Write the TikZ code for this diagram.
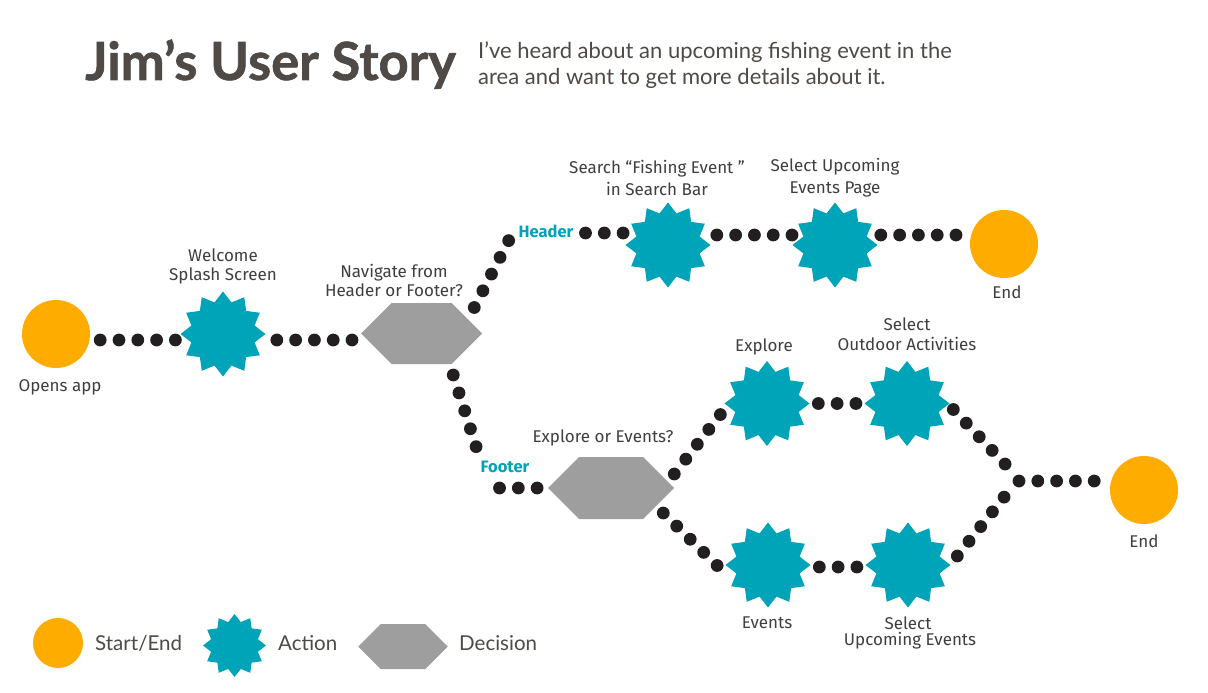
\documentclass[tikz,border=0pt]{standalone}
\usepackage{fontspec}
\setmainfont{Fira Sans}
\newfontfamily\geofont{Lato}
\newfontfamily\titlefont{Lato}[BoldFeatures={FakeBold=1.2}]
\usetikzlibrary{shapes.geometric,shapes.symbols,calc}
\definecolor{orng}{HTML}{FFAC00}
\definecolor{tealc}{HTML}{00A4B8}
\definecolor{grayc}{HTML}{9E9E9E}
\definecolor{dotc}{HTML}{231F20}
\definecolor{txt}{HTML}{3F3F3F}
\definecolor{ttl}{HTML}{4F4A45}
\begin{document}
\begin{tikzpicture}[x=1pt,y=-1pt,
  seend/.style={circle,fill=orng,inner sep=0pt,minimum size=68pt},
  actstar/.style={star,star points=12,star point ratio=1.3,fill=tealc,inner sep=0pt,minimum size=85pt},
  decis/.style={signal,signal to=west and east,signal pointer angle=90,fill=grayc,inner sep=0pt,minimum width=121pt,minimum height=61pt},
  dotline/.style={draw=dotc,line width=12.8pt,line cap=round,dash pattern=on 0pt off 18.8pt,shorten >=-3pt},
  lbl/.style={font=\fontsize{17}{20}\selectfont,text=txt,inner sep=0pt,anchor=base},
  hlbl/.style={font=\bfseries\fontsize{16.5}{19}\selectfont,text=tealc,inner sep=0pt},
  leg/.style={font=\geofont\fontsize{20.5}{24}\selectfont,text=ttl,inner sep=0pt,anchor=west}]
\useasboundingbox (0,0) rectangle (1208,693);
\fill[white] (0,0) rectangle (1208,693);

% title
\node[anchor=base west,inner sep=0pt,font=\titlefont\bfseries\fontsize{52.5}{52}\selectfont,text=ttl] (title) at (85,80) {Jim’s User Story};
\node[anchor=north west,inner sep=0pt,align=left,font=\geofont\fontsize{22}{26}\selectfont,text=ttl] (sub) at (478,41) {I’ve heard about an upcoming fishing event in the\\area and want to get more details about it.};

% nodes
\node[seend] (start) at (56,334) {};
\node[actstar] (welcome) at (223,334) {};
\node[decis] (nav) at (421.5,333.5) {};
\node[hlbl] (hdr) at (546,231) {Header};
\node[actstar] (search) at (668,245) {};
\node[actstar] (selpage) at (835,245) {};
\node[seend] (end1) at (1004,244) {};
\node[hlbl] (ftr) at (505,467) {Footer};
\node[decis,minimum width=126pt,minimum height=62pt] (expev) at (611,488) {};
\node[actstar] (explore) at (767,403.5) {};
\node[actstar] (seloutdoor) at (907,403.5) {};
\node[actstar] (events) at (768,565) {};
\node[actstar] (selupc) at (908,565) {};
\node[seend] (end2) at (1144,490) {};
\coordinate (junc) at (1019,481);

% dotted connectors
\draw[dotline] ($(start.east)+(10,6)$) -- ($(welcome.west)+(-5,6)$);
\draw[dotline] ($(welcome.east)+(11,6)$) -- ($(nav.west)+(-9,6.5)$);
\draw[dotline] ($(nav.east)+(-8,-26)$) -- ($(hdr.west)+(-9,8)$);
\draw[dotline] ($(hdr.east)+(12,2)$) -- ($(search.west)+(-2,-12)$);
\draw[dotline] ($(search.east)+(6,-10)$) -- ($(selpage.west)+(0,-10)$);
\draw[dotline] ($(selpage.east)+(3,-10)$) -- ($(end1.west)+(-14,-9)$);
\draw[dotline] ($(nav.east)+(-29,41.5)$) -- ($(ftr.west)+(-4,-19)$);
\draw[dotline] ($(ftr.west)+(19,21)$) -- ($(expev.west)+(-10,0)$);
\draw[dotline] ($(expev.east)+(0,-14)$) -- ($(explore.west)+(-3,10)$);
\draw[dotline] ($(explore.east)+(8.5,0)$) -- ($(seloutdoor.west)+(-8.5,0)$);
\draw[dotline] ($(seloutdoor.east)+(3.5,6)$) -- ($(junc)+(-13,-16)$);
\draw[dotline] ($(expev.east)+(-11,25)$) -- ($(events.west)+(-7.5,1)$);
\draw[dotline] ($(events.east)+(8.5,2)$) -- ($(selupc.west)+(-8.5,2)$);
\draw[dotline] ($(selupc.east)+(6.5,-9)$) -- ($(junc)+(-14,15)$);
\draw[dotline] (junc) -- ($(end2.west)+(-15,-9)$);

% labels
\node[lbl] (lopen) at (60,391.5) {Opens app};
\node[lbl] (lwel1) at (223,261.5) {Welcome};
\node[lbl] (lwel2) at (223,280.5) {Splash Screen};
\node[lbl] (lnav1) at (394,277.5) {Navigate from};
\node[lbl] (lnav2) at (394,296.5) {Header or Footer?};
\node[lbl] (lsea1) at (657,173.5) {Search “Fishing Event ”};
\node[lbl] (lsea2) at (657,195.5) {in Search Bar};
\node[lbl] (lsp1) at (835,171.5) {Select Upcoming};
\node[lbl] (lsp2) at (835,193.5) {Events Page};
\node[lbl] (lend1) at (1007,298.5) {End};
\node[lbl] (lexev) at (603,442.5) {Explore or Events?};
\node[lbl] (lexp) at (764,351.5) {Explore};
\node[lbl] (lso1) at (907,330.5) {Select};
\node[lbl] (lso2) at (907,350.5) {Outdoor Activities};
\node[lbl] (lev) at (767,628.5) {Events};
\node[lbl] (lsu1) at (908,629.5) {Select};
\node[lbl] (lsu2) at (910,645.5) {Upcoming Events};
\node[lbl] (lend2) at (1144,547.5) {End};

% legend
\node[seend,minimum size=50pt] (lgse) at (58,643) {};
\node[leg] (lgset) at (95,643) {Start/End};
\node[actstar,minimum size=63pt] (lgact) at (234.5,645.5) {};
\node[leg] (lgactt) at (278,643) {Action};
\node[decis,minimum width=89.5pt,minimum height=45pt] (lgdec) at (403,646.5) {};
\node[leg] (lgdect) at (459,643) {Decision};
\end{tikzpicture}
\end{document}
